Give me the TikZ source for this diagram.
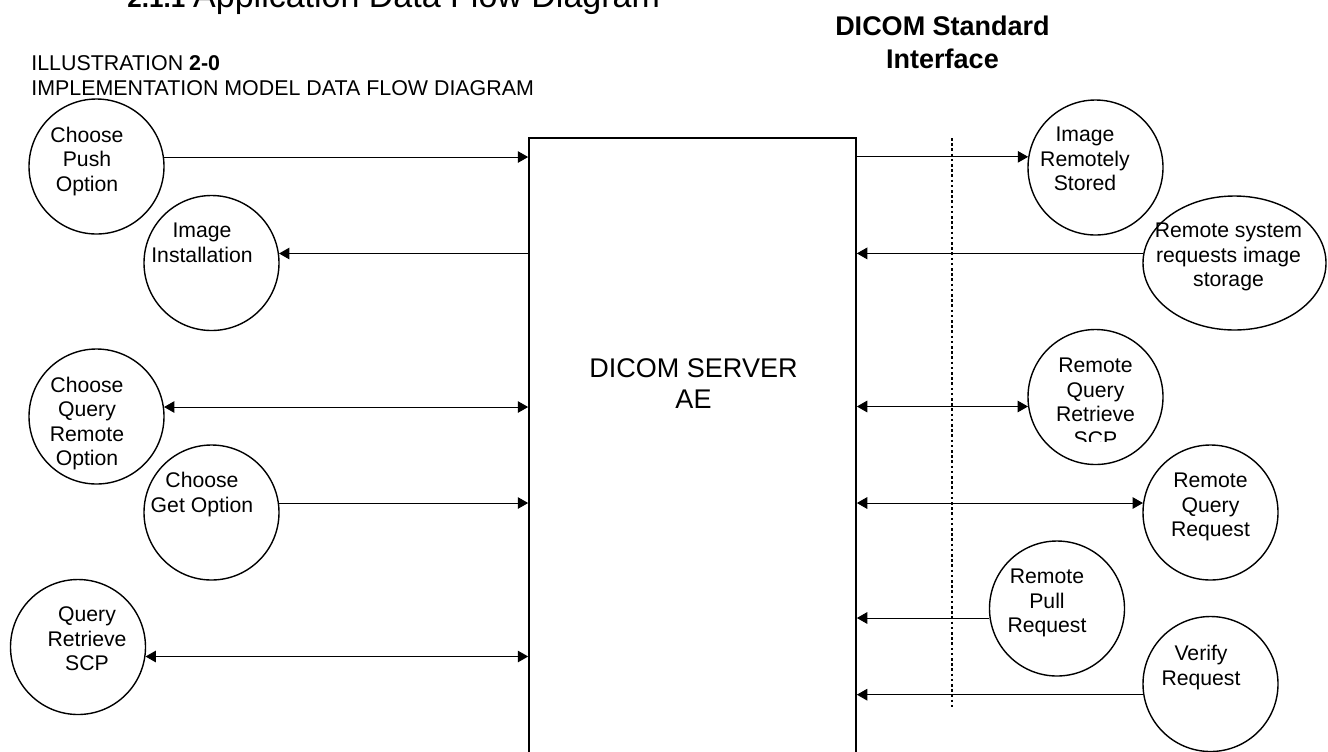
\documentclass[tikz,border=0pt]{standalone}
\usepackage{fontspec}
\setmainfont{Liberation Sans}
\usetikzlibrary{arrows.meta,shapes.geometric}

\begin{document}
\begin{tikzpicture}[x=0.5pt, y=-0.5pt, font=\fontsize{10.6}{12.25}\selectfont]
\tikzset{
  proc/.style  ={draw, circle, minimum size=67.5pt, inner sep=0pt, line width=0.7pt},
  ext/.style   ={draw, ellipse, minimum width=91.5pt, minimum height=67pt, inner sep=0pt, line width=0.7pt},
  server/.style={draw, rectangle, minimum width=163.5pt, minimum height=321pt, inner sep=0pt, line width=0.85pt},
  lbl/.style   ={align=center, inner sep=0pt},
  aO/.style={-{Triangle[length=5.2pt,width=5.8pt]}, line width=0.5pt},
  aB/.style={{Triangle[length=5.2pt,width=5.8pt]}-{Triangle[length=5.2pt,width=5.8pt]}, line width=0.5pt},
  iface/.style={line width=0.65pt, dash pattern=on 1.3pt off 1.3pt}
}
\useasboundingbox (0,0) rectangle (1328,751);

% headings
\node (title) [anchor=base west, inner sep=0pt, font=\fontsize{17}{20}\selectfont] at (127,7.5) {{\fontsize{13}{15}\selectfont\bfseries 2.1.1}\hspace{4pt}Application Data Flow Diagram};
\node (illus) [anchor=north west, align=left, inner sep=0pt, font=\fontsize{10.7}{12.5}\selectfont] at (31,54.7) {ILLUSTRATION \textbf{2-0}\\IMPLEMENTATION MODEL DATA FLOW DIAGRAM};
\node (ifacet) [lbl, font=\fontsize{13.5}{16.5}\selectfont\bfseries] at (942.5,42) {DICOM Standard\\Interface};

% application entity
\node (ae) [server] at (692.5,459) {};
\node (aet) [lbl, font=\fontsize{13.5}{15.5}\selectfont] at ([shift={(1,-75)}]ae) {DICOM SERVER\\AE};

% local side
\node (push)  [proc] at (96.5,166.5) {};
\node (pusht) [lbl] at ([shift={(-9.5,-5)}]push) {Choose\\Push\\Option};
\node (inst)  [proc] at (211.5,263) {};
\node (instt) [lbl] at ([shift={(-9.5,-20)}]inst) {Image\\Installation};
\node (qr)    [proc] at (96.5,416.5) {};
\node (qrt)   [lbl] at ([shift={(-9.5,7)}]qr) {Choose\\Query\\Remote\\Option};
\node (get)   [proc] at (211.5,512.5) {};
\node (gett)  [lbl] at ([shift={(-9.5,-18)}]get) {Choose\\Get Option};
\node (qrscp) [proc] at (78,647) {};
\node (qrscpt)[lbl] at ([shift={(9,-8)}]qrscp) {Query\\Retrieve\\SCP};

% remote side
\node (stored) [proc] at (1095.5,167.5) {};
\node (storedt)[lbl] at ([shift={(-10.5,-8.5)}]stored) {Image\\Remotely\\Stored};
\node (rsys)   [ext] at (1234.5,263) {};
\node (rsyst)  [lbl] at ([shift={(-6,-5.7)}]rsys) {Remote system\\requests image\\storage};
\node (rqr)    [proc] at (1095.5,397) {};
\begin{scope}
  \clip (1000,300) rectangle (1200,441.5);
  \node (rqrt) [lbl] at ([shift={(0,5.4)}]rqr) {Remote\\Query\\Retrieve\\SCP};
\end{scope}
\node (rqreq)  [proc] at (1210.5,512.5) {};
\node (rqreqt) [lbl] at ([shift={(0,-5.5)}]rqreq) {Remote\\Query\\Request};
\node (pull)   [proc] at (1057,608.5) {};
\node (pullt)  [lbl] at ([shift={(-10,-5.5)}]pull) {Remote\\Pull\\Request};
\node (verify) [proc] at (1210.5,684) {};
\node (verifyt)[lbl] at ([shift={(-9.5,-16.5)}]verify) {Verify\\Request};

% interface boundary
\coordinate (ifacetop) at (952,138);
\coordinate (ifacebot) at (952,708);
\draw[iface] (ifacetop) -- (ifacebot);

% flows
\draw[aO] (push.8) -- (push.8 -| ae.west);
\draw[aO] (inst.8 -| ae.west) -- (inst.8);
\draw[aB] (qr.8) -- (qr.8 -| ae.west);
\draw[aO] (get.8) -- (get.8 -| ae.west);
\draw[aB] (qrscp.352) -- (qrscp.352 -| ae.west);
\draw[aO] (stored.171 -| ae.east) -- (stored.171);
\draw[aO] (rsys.174) -- (rsys.174 -| ae.east);
\draw[aB] (rqr.188 -| ae.east) -- (rqr.188);
\draw[aB] (rqreq.172 -| ae.east) -- (rqreq.172);
\draw[aO] (pull.188) -- (pull.188 -| ae.east);
\draw[aO] (verify.189) -- (verify.189 -| ae.east);
\end{tikzpicture}
\end{document}
